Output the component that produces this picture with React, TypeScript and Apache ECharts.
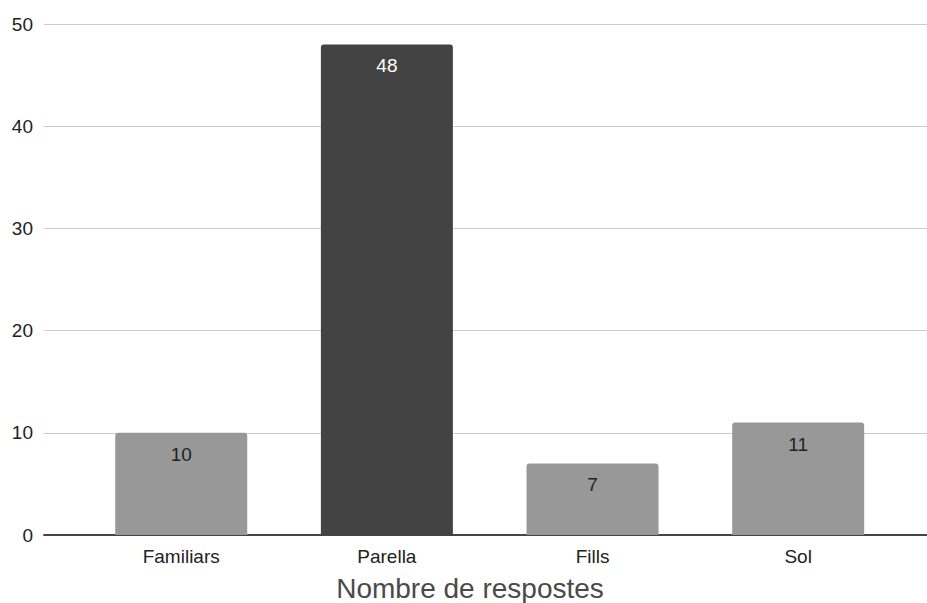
import React, { useEffect, useRef } from "react";
import * as echarts from "echarts";

const categories = ["Familiars", "Parella", "Fills", "Sol"];
const values = [10, 48, 7, 11];
const yTicks = [0, 10, 20, 30, 40, 50];
const axisTitle = "Nombre de respostes";
const highlighted = "Parella";

export default function App() {
  const ref = useRef<HTMLDivElement>(null);
  useEffect(() => {
    if (!ref.current) return;
    const chart = echarts.init(ref.current, undefined, { renderer: "svg" });
    const font = "Liberation Sans";
    const yMin = yTicks[0];
    const yMax = yTicks[yTicks.length - 1];
    const yInterval = yTicks[1] - yTicks[0];
    chart.setOption({
      animation: false,
      textStyle: { fontFamily: font },
      grid: [
        { left: 44, right: 0, top: 24, bottom: 68, containLabel: false },
        { left: 78.4, right: 26, top: 24, bottom: 68, containLabel: false },
      ],
      xAxis: [
        {
          type: "value",
          gridIndex: 0,
          min: 0,
          max: 1,
          axisLine: { show: true, lineStyle: { color: "#444", width: 2 } },
          axisTick: { show: false },
          axisLabel: { show: false },
          splitLine: { show: false },
        },
        {
          type: "category",
          gridIndex: 1,
          data: categories,
          axisLine: { show: false },
          axisTick: { show: false },
          axisLabel: { fontSize: 19, color: "#222", margin: 12, fontFamily: font },
        },
      ],
      yAxis: [
        {
          type: "value",
          gridIndex: 0,
          min: yMin,
          max: yMax,
          interval: yInterval,
          axisLine: { show: false },
          axisTick: { show: false },
          axisLabel: { fontSize: 19, color: "#222", margin: 11, fontFamily: font },
          splitLine: { lineStyle: { color: "#cccccc", width: 1 } },
        },
        {
          type: "value",
          gridIndex: 1,
          min: yMin,
          max: yMax,
          interval: yInterval,
          show: false,
          splitLine: { show: false },
        },
      ],
      series: [
        {
          type: "bar",
          xAxisIndex: 1,
          yAxisIndex: 1,
          barWidth: 132,
          data: values.map((v, i) => {
            const hi = categories[i] === highlighted;
            return {
              value: v,
              itemStyle: { color: hi ? "#434343" : "#989898", borderRadius: [3, 3, 0, 0] },
              label: { color: hi ? "#ffffff" : "#222222" },
            };
          }),
          label: {
            show: true,
            position: "insideTop",
            distance: 12,
            fontSize: 19,
            fontFamily: font,
          },
        },
      ],
      graphic: [
        {
          type: "text",
          x: 470,
          y: 588,
          style: {
            text: axisTitle,
            fontSize: 28,
            fontFamily: font,
            fill: "#4a4a4a",
            textAlign: "center",
            textVerticalAlign: "middle",
          },
        },
      ],
    });
    return () => chart.dispose();
  }, []);
  return <div ref={ref} style={{ width: 927, height: 603, position: "absolute", left: 0, top: 0 }} />;
}
